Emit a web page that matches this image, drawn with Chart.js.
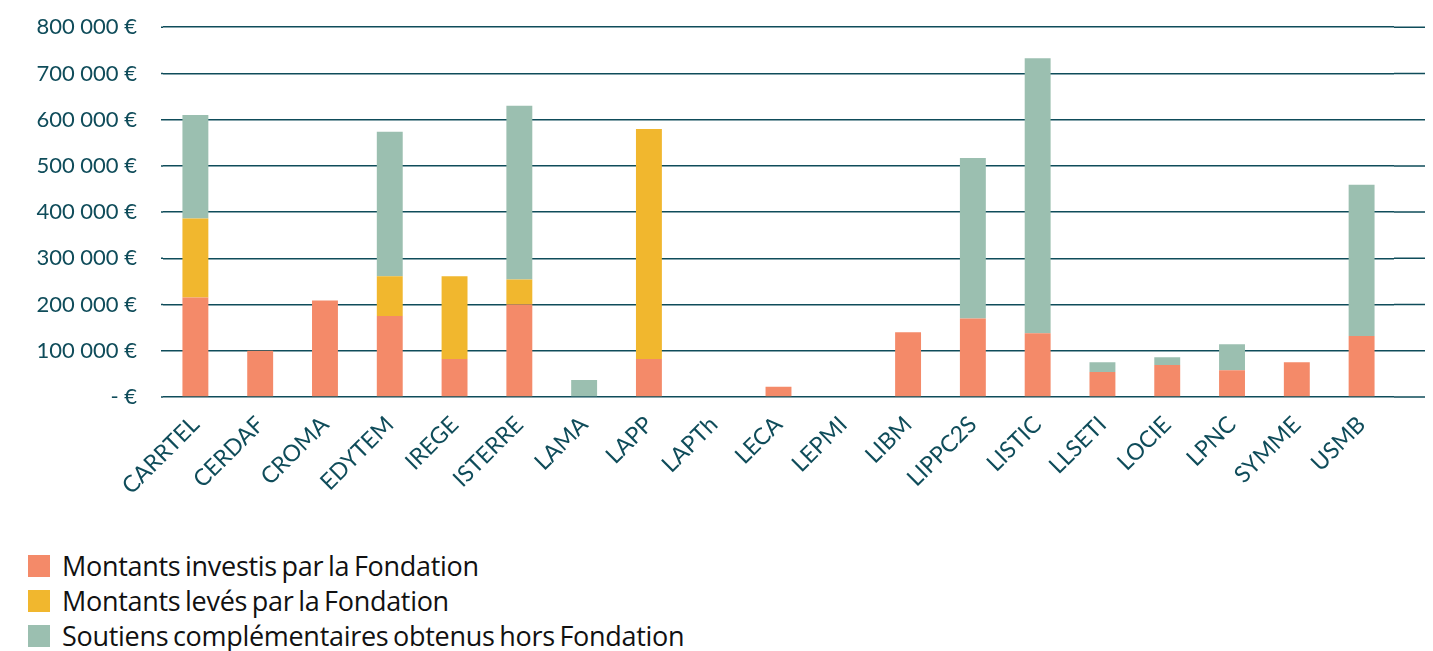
<!DOCTYPE html>
<html>
<head>
<meta charset="utf-8">
<script src="https://cdn.jsdelivr.net/npm/chart.js@4"></script>
<style>
body{margin:0;background:#fff;font-family:Lato,sans-serif;overflow:hidden}
#wrap{position:absolute;left:0;top:-12px;width:1433px;height:542px}
#legende{list-style:none;margin:0;padding:0;position:absolute;left:28px;top:548px}
#legende li{display:flex;align-items:center;height:35px;font-family:'Open Sans',sans-serif;font-size:27px;color:#111;letter-spacing:-0.3px;word-spacing:-2px}
#legende span{display:inline-block;width:22px;height:22px;margin-right:12px}
</style>
</head>
<body>
<div id="wrap"><canvas id="grafico" width="1433" height="542"></canvas></div>
<ul id="legende"></ul>
<script>
const labos = ['CARRTEL','CERDAF','CROMA','EDYTEM','IREGE','ISTERRE','LAMA','LAPP','LAPTh','LECA','LEPMI','LIBM','LIPPC2S','LISTIC','LLSETI','LOCIE','LPNC','SYMME','USMB'];
const investis    = [215000,100000,209000,175000, 82000,200000,     0, 82000,0,22000,0,140000,170000,138000,54000,69000,58000,75000,132000];
const leves       = [171000,     0,     0, 86000,179000, 54000,     0,498000,0,    0,0,     0,     0,     0,    0,    0,    0,    0,     0];
const complements = [224000,     0,     0,313000,     0,376000, 37000,     0,0,    0,0,     0,347000,595000,21000,17000,56000,    0,327000];
const yTicks = ['- €','100 000 €','200 000 €','300 000 €','400 000 €','500 000 €','600 000 €','700 000 €','800 000 €'];

const teal = '#0f4c5a';

// prolonge les lignes de grille au-dela de la zone des barres
const extGrille = {
  id:'extGrille',
  beforeDatasetsDraw(c){
    const ctx = c.ctx, a = c.chartArea, y = c.scales.y;
    ctx.save();
    ctx.strokeStyle = teal;
    ctx.lineWidth = 1.5;
    y.ticks.forEach(t=>{
      const py = y.getPixelForValue(t.value);
      ctx.beginPath();
      ctx.moveTo(161, py); ctx.lineTo(a.left, py);
      ctx.moveTo(a.right, py); ctx.lineTo(1425, py);
      ctx.stroke();
    });
    ctx.restore();
  }
};

const chart = new Chart(grafico, {
  type:'bar',
  data:{
    labels: labos,
    datasets:[
      {label:'Montants investis par la Fondation', data:investis, backgroundColor:'#f48a69'},
      {label:'Montants levés par la Fondation', data:leves, backgroundColor:'#f1b72e'},
      {label:'Soutiens complémentaires obtenus hors Fondation', data:complements, backgroundColor:'#9bbfb0'}
    ]
  },
  options:{
    responsive:false,
    animation:false,
    devicePixelRatio:1,
    layout:{padding:{top:14,right:39,left:0,bottom:0}},
    datasets:{bar:{barPercentage:0.8,categoryPercentage:0.5,borderWidth:0}},
    plugins:{legend:{display:false},tooltip:{enabled:false}},
    scales:{
      x:{
        stacked:true,
        grid:{display:false},
        border:{display:false},
        ticks:{color:teal,font:{family:'Lato',size:23},minRotation:45,maxRotation:45,autoSkip:false,padding:6},
        afterFit(s){ s.height = 133; }
      },
      y:{
        stacked:true,
        min:0,max:800000,
        grid:{color:teal,lineWidth:1.5,drawTicks:false},
        border:{display:false},
        ticks:{stepSize:100000,color:teal,font:{family:'Lato',size:22},padding:26,
          callback:(v)=>yTicks[Math.round(v/100000)]},
        afterFit(s){ s.width = 163; }
      }
    }
  },
  plugins:[extGrille]
});

legende.innerHTML = chart.data.datasets.map(d=>
  `<li><span style="background:${d.backgroundColor}"></span>${d.label}</li>`
).join('');
</script>
</body>
</html>
